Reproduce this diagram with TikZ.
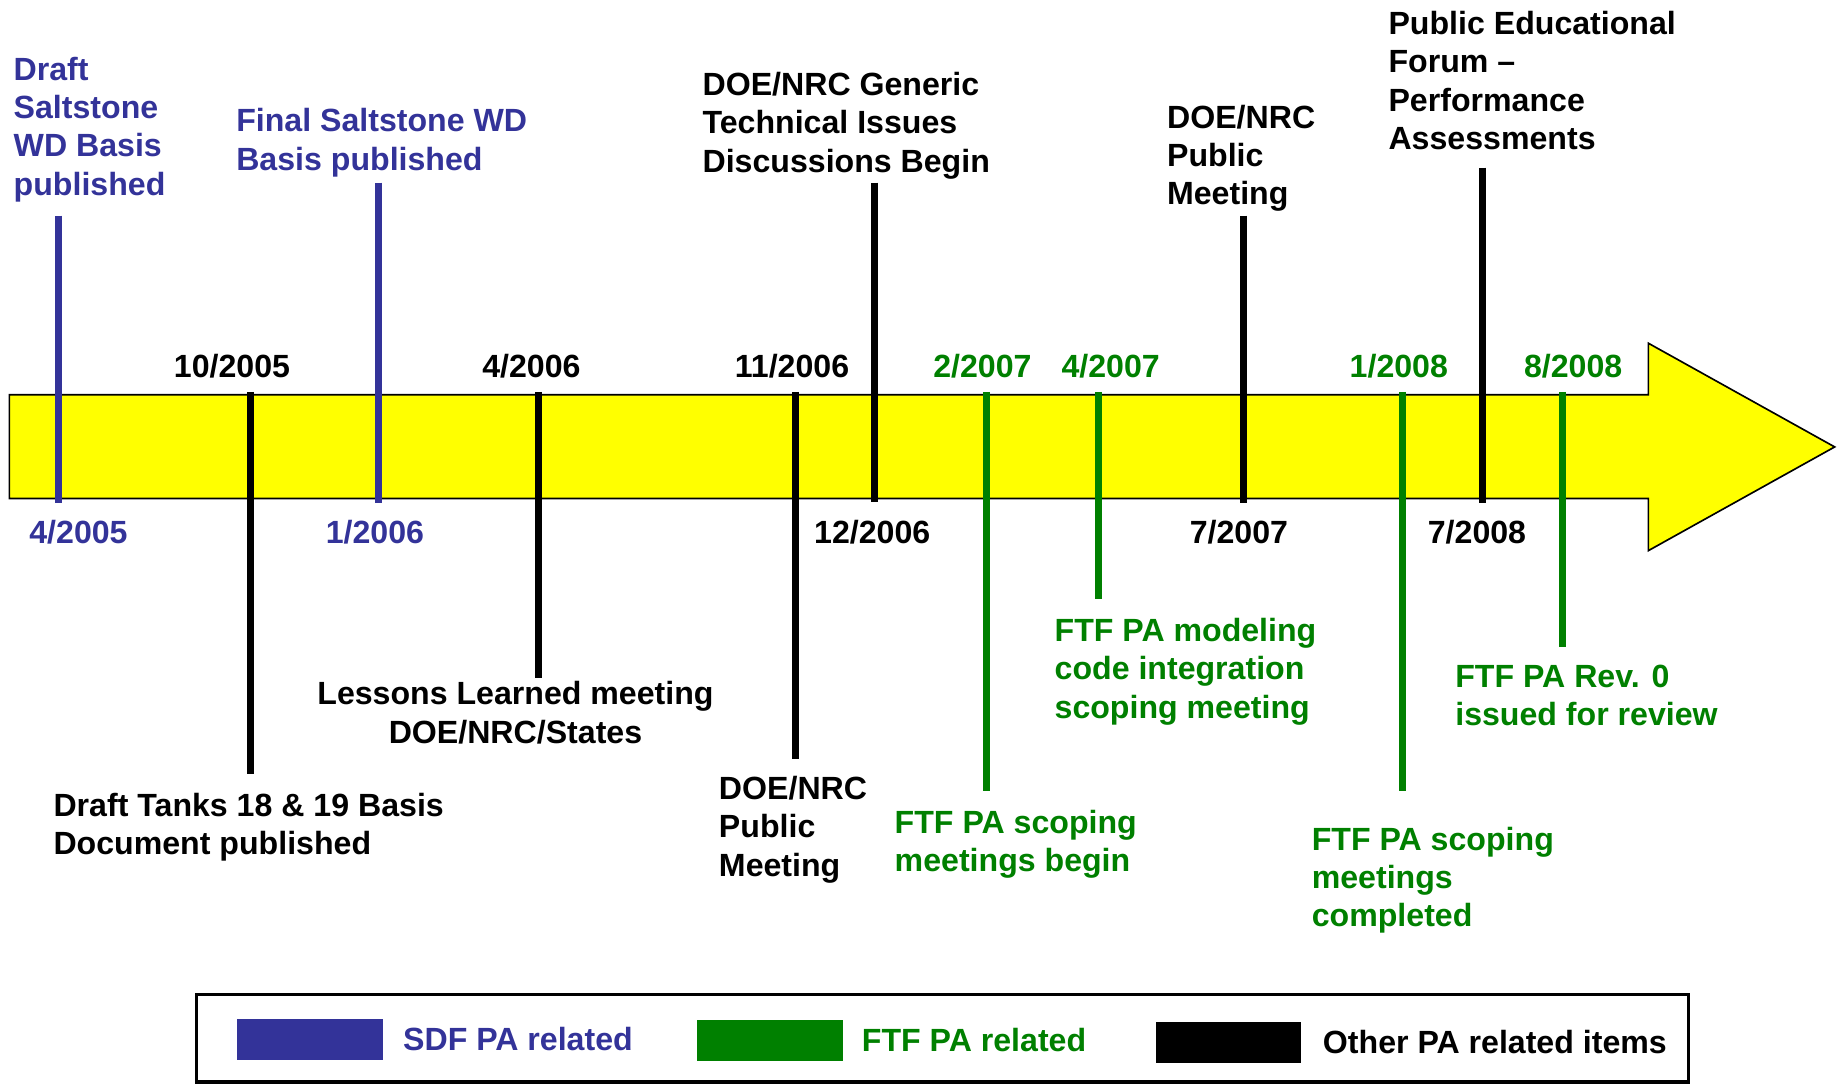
\documentclass[tikz,border=0pt]{standalone}
\usepackage{fontspec}
\setmainfont{Liberation Sans}
\usetikzlibrary{positioning}

\definecolor{sdfblue}{RGB}{51,51,153}
\definecolor{ftfgreen}{RGB}{0,128,0}
\definecolor{barfill}{RGB}{255,255,0}
\newcommand{\tlfont}{\fontsize{7.8}{9.3}\selectfont\bfseries}

\tikzset{
    evtline/.style={line width=0.6mm},
    datelbl/.style={font=\tlfont, anchor=base, inner sep=0pt},
    evttxt/.style={font=\tlfont, anchor=north west, align=left, inner sep=0pt},
    keybox/.style={minimum width=1.24cm, minimum height=0.35cm, inner sep=0pt},
    keytxt/.style={font=\tlfont, inner sep=0pt, anchor=west}
}

\begin{document}
\begin{tikzpicture}
    \useasboundingbox (0,0) rectangle (15.68,-9.25);

    % The yellow time arrow
    \draw[line width=0.4pt, fill=barfill] (0.08,-3.37) -- (14.07,-3.37) -- (14.07,-2.93)
        -- (15.66,-3.815) -- (14.07,-4.70) -- (14.07,-4.255) -- (0.08,-4.255) -- cycle;

    % End points of the event ticks
    \coordinate (t1a) at (0.50,-1.84);   \coordinate (t1b) at (0.50,-4.29);
    \coordinate (t2a) at (2.14,-3.345);  \coordinate (t2b) at (2.14,-6.61);
    \coordinate (t3a) at (3.23,-1.56);   \coordinate (t3b) at (3.23,-4.29);
    \coordinate (t4a) at (4.595,-3.345); \coordinate (t4b) at (4.595,-5.79);
    \coordinate (t5a) at (6.786,-3.345); \coordinate (t5b) at (6.786,-6.48);
    \coordinate (t6a) at (7.468,-1.56);  \coordinate (t6b) at (7.468,-4.285);
    \coordinate (t7a) at (8.424,-3.345); \coordinate (t7b) at (8.424,-6.75);
    \coordinate (t8a) at (9.38,-3.345);  \coordinate (t8b) at (9.38,-5.11);
    \coordinate (t9a) at (10.61,-1.84);  \coordinate (t9b) at (10.61,-4.29);
    \coordinate (t10a) at (11.973,-3.345); \coordinate (t10b) at (11.973,-6.75);
    \coordinate (t11a) at (12.657,-1.43);  \coordinate (t11b) at (12.657,-4.29);
    \coordinate (t12a) at (13.34,-3.345);  \coordinate (t12b) at (13.34,-5.52);

    % Draw the ticks
    \draw[evtline, sdfblue] (t1a) -- (t1b);
    \draw[evtline] (t2a) -- (t2b);
    \draw[evtline, sdfblue] (t3a) -- (t3b);
    \draw[evtline] (t4a) -- (t4b);
    \draw[evtline] (t5a) -- (t5b);
    \draw[evtline] (t6a) -- (t6b);
    \draw[evtline, ftfgreen] (t7a) -- (t7b);
    \draw[evtline, ftfgreen] (t8a) -- (t8b);
    \draw[evtline] (t9a) -- (t9b);
    \draw[evtline, ftfgreen] (t10a) -- (t10b);
    \draw[evtline] (t11a) -- (t11b);
    \draw[evtline, ftfgreen] (t12a) -- (t12b);

    % Dates above and below the arrow
    \node[datelbl, sdfblue] (d1) at (0.67,-4.64) {4/2005};
    \node[datelbl] (d2) at (1.98,-3.22) {10/2005};
    \node[datelbl, sdfblue] (d3) at (3.20,-4.64) {1/2006};
    \node[datelbl] (d4) at (4.536,-3.22) {4/2006};
    \node[datelbl] (d5) at (6.76,-3.22) {11/2006};
    \node[datelbl] (d6) at (7.445,-4.64) {12/2006};
    \node[datelbl, ftfgreen] (d7) at (8.385,-3.22) {2/2007};
    \node[datelbl, ftfgreen] (d8) at (9.48,-3.22) {4/2007};
    \node[datelbl] (d9) at (10.575,-4.64) {7/2007};
    \node[datelbl, ftfgreen] (d10) at (11.94,-3.22) {1/2008};
    \node[datelbl] (d11) at (12.607,-4.64) {7/2008};
    \node[datelbl, ftfgreen] (d12) at (13.428,-3.22) {8/2008};

    % Event descriptions
    \node[evttxt, sdfblue] (sdfdraft) at (0.11,-0.48) {Draft\\Saltstone\\WD Basis\\published};
    \node[evttxt, sdfblue] (sdffinal) at (2.01,-0.92) {Final Saltstone WD\\Basis published};
    \node[evttxt] (tanks) at (0.45,-6.76) {Draft Tanks 18 \& 19 Basis\\Document published};
    \node[font=\tlfont, anchor=north, align=center, inner sep=0pt] (lessons) at (4.40,-5.81)
        {Lessons Learned meeting\\DOE/NRC/States};
    \node[evttxt] (pubmeet1) at (6.13,-6.62) {DOE/NRC\\Public\\Meeting};
    \node[evttxt] (generic) at (5.99,-0.61) {DOE/NRC Generic\\Technical Issues\\Discussions Begin};
    \node[evttxt, ftfgreen] (scopebegin) at (7.63,-6.91) {FTF PA scoping\\meetings begin};
    \node[evttxt, ftfgreen] (modeling) at (8.995,-5.27) {FTF PA modeling\\code integration\\scoping meeting};
    \node[evttxt] (pubmeet2) at (9.955,-0.89) {DOE/NRC\\Public\\Meeting};
    \node[evttxt, ftfgreen] (scopedone) at (11.19,-7.05) {FTF PA scoping\\meetings\\completed};
    \node[evttxt] (forum) at (11.845,-0.09) {Public Educational\\Forum –\\Performance\\Assessments};
    \node[evttxt, ftfgreen] (revzero) at (12.415,-5.67) {FTF PA Rev. 0\\issued for review};

    % Legend
    \draw[line width=0.28mm] (1.68,-8.49) rectangle (14.415,-9.235);
    \node[keybox, fill=sdfblue] (sdfkey) at (2.647,-8.871) {};
    \node[keybox, fill=ftfgreen] (ftfkey) at (6.573,-8.88) {};
    \node[keybox, fill=black] (othkey) at (10.488,-8.895) {};
    \node[keytxt, sdfblue, right=0.16cm of sdfkey] (sdftxt) {SDF PA related};
    \node[keytxt, ftfgreen, right=0.15cm of ftfkey] (ftftxt) {FTF PA related};
    \node[keytxt, right=0.17cm of othkey] (othtxt) {Other PA related items};
\end{tikzpicture}
\end{document}
